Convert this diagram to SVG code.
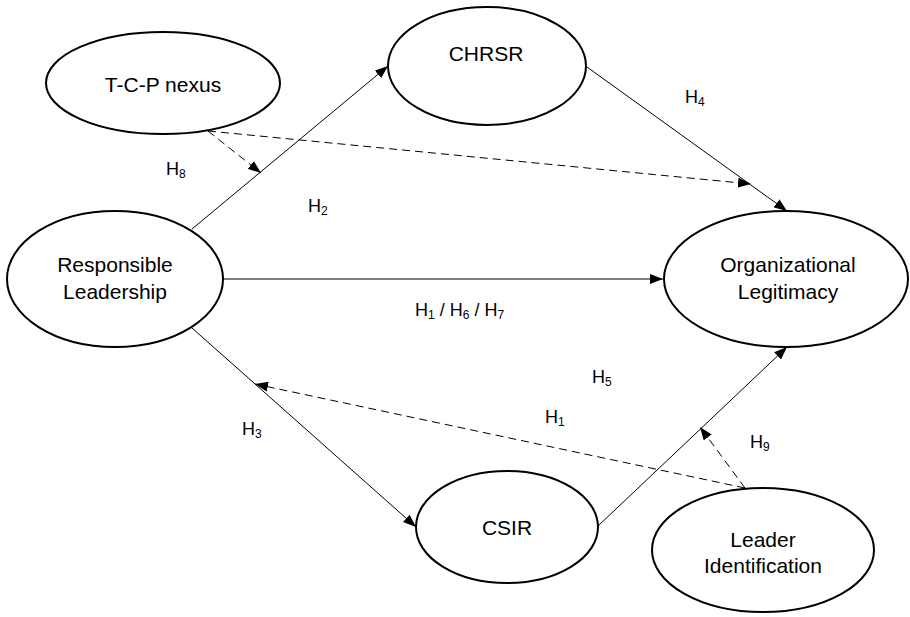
<svg xmlns="http://www.w3.org/2000/svg" width="910" height="617" viewBox="0 0 910 617">
<style>
.node ellipse{fill:#fff;stroke:#000;stroke-width:2}
.node text{font-family:"Liberation Sans",Arial,sans-serif;font-size:21px;fill:#000;text-anchor:middle}
.lbl{font-family:"Liberation Sans",Arial,sans-serif;font-size:18px;fill:#000}
.lbl tspan.s{font-size:12px}
.c{stroke:#000;stroke-width:1;fill:none}
.d{stroke-dasharray:8 5}
</style>
<defs>
<marker id="ah" markerUnits="userSpaceOnUse" markerWidth="14" markerHeight="10" refX="13" refY="5" orient="auto">
<path d="M0,0 L13,5 L0,10 z" fill="#000"/>
</marker>
</defs>
<g id="connectors">
<line class="c" x1="192" y1="229" x2="388" y2="66" marker-end="url(#ah)"/>
<line class="c d" x1="208" y1="131" x2="261" y2="173" marker-end="url(#ah)"/>
<line class="c d" x1="208" y1="131" x2="751" y2="184" marker-end="url(#ah)"/>
<line class="c" x1="587" y1="67" x2="787" y2="211" marker-end="url(#ah)"/>
<line class="c" x1="223" y1="279" x2="663" y2="279" marker-end="url(#ah)"/>
<line class="c" x1="192" y1="328" x2="416" y2="527" marker-end="url(#ah)"/>
<line class="c d" x1="745" y1="488" x2="255" y2="384" marker-end="url(#ah)"/>
<line class="c" x1="598" y1="526" x2="787" y2="347" marker-end="url(#ah)"/>
<line class="c d" x1="745" y1="488" x2="700" y2="427" marker-end="url(#ah)"/>
</g>
<g id="labels">
<text class="lbl" x="166" y="175">H<tspan class="s" dy="3">8</tspan></text>
<text class="lbl" x="308" y="212">H<tspan class="s" dy="3">2</tspan></text>
<text class="lbl" x="685" y="103">H<tspan class="s" dy="3">4</tspan></text>
<text class="lbl" x="415" y="316">H<tspan class="s" dy="3">1</tspan><tspan dy="-3"> / H</tspan><tspan class="s" dy="3">6</tspan><tspan dy="-3"> / H</tspan><tspan class="s" dy="3">7</tspan></text>
<text class="lbl" x="592" y="383">H<tspan class="s" dy="3">5</tspan></text>
<text class="lbl" x="545" y="423">H<tspan class="s" dy="3">1</tspan></text>
<text class="lbl" x="242" y="435">H<tspan class="s" dy="3">3</tspan></text>
<text class="lbl" x="750" y="448">H<tspan class="s" dy="3">9</tspan></text>
</g>
<g id="tcp" class="node"><ellipse cx="163" cy="83" rx="117" ry="51"/><text x="163" y="92">T-C-P nexus</text></g>
<g id="chrsr" class="node"><ellipse cx="487" cy="66" rx="99" ry="59"/><text x="486" y="61">CHRSR</text></g>
<g id="rl" class="node"><ellipse cx="115" cy="279" rx="108" ry="68"/><text x="115" y="272">Responsible</text><text x="115" y="299">Leadership</text></g>
<g id="ol" class="node"><ellipse cx="786" cy="279" rx="122" ry="68"/><text x="788" y="272">Organizational</text><text x="788" y="299">Legitimacy</text></g>
<g id="csir" class="node"><ellipse cx="507" cy="527" rx="91" ry="56"/><text x="507" y="535">CSIR</text></g>
<g id="li" class="node"><ellipse cx="763" cy="550" rx="111" ry="62"/><text x="763" y="547">Leader</text><text x="763" y="573">Identification</text></g>
</svg>
